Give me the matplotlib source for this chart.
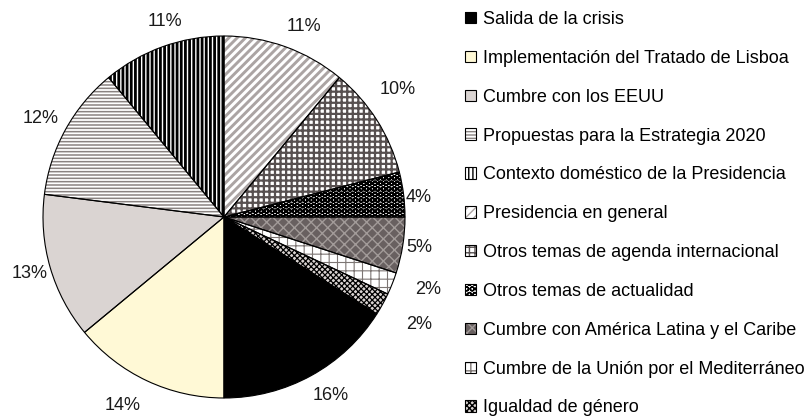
import numpy as np
import matplotlib.pyplot as plt
from matplotlib.patches import Patch

plt.rcParams['font.family'] = ['Liberation Sans', 'DejaVu Sans']

# temas y porcentajes (orden de la leyenda, sentido horario)
temas = [
    "Salida de la crisis",
    "Implementación del Tratado de Lisboa",
    "Cumbre con los EEUU",
    "Propuestas para la Estrategia 2020",
    "Contexto doméstico de la Presidencia",
    "Presidencia en general",
    "Otros temas de agenda internacional",
    "Otros temas de actualidad",
    "Cumbre con América Latina y el Caribe",
    "Cumbre de la Unión por el Mediterráneo",
    "Igualdad de género",
]
pct = [16, 14, 13, 12, 11, 11, 10, 4, 5, 2, 2]

# estilos de relleno (tipo Excel)
fondos = ['#000000', '#FFF9D6', '#DAD4D2', '#FFFFFF', '#FFFFFF', '#FFFFFF',
          '#FFFFFF', '#FFFFFF', '#686060', '#FFFFFF', '#D9D3D1']
tramas = [None, None, None, '-----', '||||', '////', '+++', 'OOO', 'xxx', '++', 'xxxxxx']
color_trama = ['#000000', '#000000', '#000000', '#8A8381', '#000000', '#ABA4A3',
               '#575050', '#000000', '#A29B99', '#7D7674', '#000000']
grosor_trama = [1, 1, 1, 1.1, 2.0, 2.1, 1.6, 1.3, 1.0, 0.8, 0.9]
# colocación de las etiquetas: distancia (radio = 1) y giro respecto al centro del sector
dist_etiq = [1.15, 1.18, 1.12, 1.15, 1.13, 1.14, 1.19, 1.08, 1.09, 1.20, 1.23]
giro_etiq = [2, -3, 0, 0.5, -3, -3, 4, -1.5, 0, 2, 0]

fig = plt.figure(figsize=(8.07, 4.18), dpi=100)
ax = fig.add_axes([(224 - 181) / 807, (418 - 217 - 181) / 418, 362 / 807, 362 / 418])

wedges, _, autotexts = ax.pie(
    pct, colors=fondos, startangle=327.6, counterclock=False, radius=1,
    autopct='%1.0f%%', pctdistance=1.14,
    wedgeprops=dict(linewidth=0),
    textprops=dict(fontsize=13, color='#1a1a1a'))

for w, h, c, lw in zip(wedges, tramas, color_trama, grosor_trama):
    if h:
        w.set_hatch(h)
        w.set_edgecolor(c)
        if hasattr(w, 'set_hatch_linewidth'):
            w.set_hatch_linewidth(lw)
    w.set_linewidth(0)

for t, w, d, g in zip(autotexts, wedges, dist_etiq, giro_etiq):
    ang = np.deg2rad((w.theta1 + w.theta2) / 2 + g)
    t.set_position((d * np.cos(ang), d * np.sin(ang)))

# contornos negros
ax.pie(pct, colors=['none'] * len(pct), startangle=327.6, counterclock=False,
       radius=1, wedgeprops=dict(edgecolor='black', linewidth=0.8, fill=False))

ax.set_xlim(-1, 1)
ax.set_ylim(-1, 1)
ax.axis('off')

handles = [(w, Patch(facecolor='none', edgecolor='black', linewidth=0.8)) for w in wedges]
fig.legend(handles, temas, loc='upper left', bbox_to_anchor=(465 / 807, 1 - 11 / 418),
           frameon=False, fontsize=13, handlelength=0.6, handleheight=0.6,
           handletextpad=0.4, labelspacing=1.21, borderpad=0, borderaxespad=0)

fig.savefig('out.png', dpi=100)
